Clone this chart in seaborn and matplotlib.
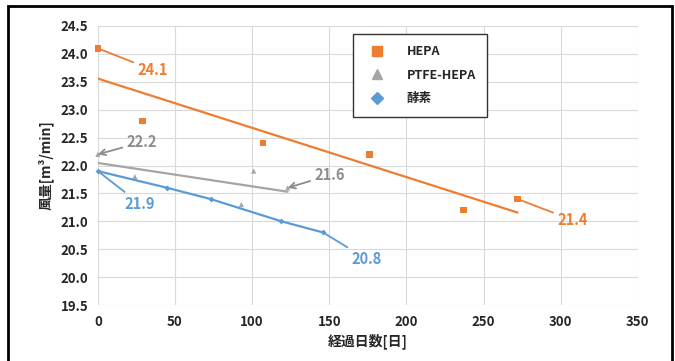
import numpy as np
import pandas as pd
import matplotlib
matplotlib.use('Agg')
import matplotlib.pyplot as plt
from matplotlib.lines import Line2D
from matplotlib.patches import Rectangle
import seaborn as sns

# %% Data
hepa_days = [0, 29, 107, 176, 237, 272]
hepa_flow = [24.1, 22.8, 22.4, 22.2, 21.2, 21.4]

ptfe_days = [0, 24, 93, 101, 123]
ptfe_flow = [22.2, 21.8, 21.3, 21.9, 21.6]

enzyme_days = [0, 45, 73, 119, 146]
enzyme_flow = [21.9, 21.6, 21.4, 21.0, 20.8]

series_names = ['HEPA', 'PTFE-HEPA', '酵素']
c_orange, c_grey, c_blue = '#ED7D31', '#A5A5A5', '#5B9BD5'

hepa = pd.DataFrame({'day': hepa_days, 'flow': hepa_flow})
ptfe = pd.DataFrame({'day': ptfe_days, 'flow': ptfe_flow})
enzyme = pd.DataFrame({'day': enzyme_days, 'flow': enzyme_flow})

# %% Style
sns.set_style('whitegrid', {'grid.color': '#d9d9d9'})
plt.rcParams['font.family'] = ['Noto Sans CJK JP', 'DejaVu Sans']

fig = plt.figure(figsize=(6.75, 3.61), dpi=100)
ax = fig.add_axes([0.145, 0.155, 0.80, 0.773])

# trendlines (linear fit, like the spreadsheet)
sns.regplot(data=hepa, x='day', y='flow', ax=ax, scatter=False, ci=None,
            color=c_orange, line_kws={'lw': 1.6})
sns.regplot(data=ptfe, x='day', y='flow', ax=ax, scatter=False, ci=None,
            color=c_grey, line_kws={'lw': 1.6})

# measured points
sns.scatterplot(data=hepa, x='day', y='flow', ax=ax, marker='s', s=22,
                color=c_orange, edgecolor='none', zorder=3, clip_on=False)
sns.scatterplot(data=ptfe, x='day', y='flow', ax=ax, marker='^', s=14,
                color=c_grey, edgecolor='none', zorder=3, clip_on=False)
sns.lineplot(data=enzyme, x='day', y='flow', ax=ax, color=c_blue, lw=1.6,
             marker='D', markersize=3, markeredgewidth=0, zorder=4,
             clip_on=False)

# value call-outs
def callout(x, y, tx, ty, color, arrow):
    ax.annotate(f'{y:.1f}', xy=(x, y), xytext=(tx, ty), color=color,
                fontsize=10.5, fontweight='bold', va='center', ha='left',
                arrowprops=dict(arrowstyle='->' if arrow else '-', color=color,
                                lw=1.3, shrinkA=1, shrinkB=0))

callout(hepa_days[0], hepa_flow[0], 25.9, 23.71, c_orange, False)
callout(hepa_days[-1], hepa_flow[-1], 298, 21.02, c_orange, False)
callout(ptfe_days[0], ptfe_flow[0], 18.8, 22.42, '#8c8c8c', True)
callout(ptfe_days[-1], ptfe_flow[-1], 140.6, 21.83, '#8c8c8c', True)
callout(enzyme_days[0], enzyme_flow[0], 17.5, 21.31, c_blue, False)
callout(enzyme_days[-1], enzyme_flow[-1], 164.6, 20.32, c_blue, False)

ax.set_xlim(0, 350)
ax.set_ylim(19.5, 24.5)
ax.set_xticks(np.arange(0, 351, 50))
ax.set_yticks(np.arange(19.5, 24.51, 0.5))
ax.yaxis.set_major_formatter(matplotlib.ticker.FormatStrFormatter('%.1f'))
ax.tick_params(length=0, labelsize=9.5, pad=7)
for lab in ax.get_xticklabels() + ax.get_yticklabels():
    lab.set_fontweight('bold')
for s in ax.spines.values():
    s.set_visible(False)

ax.set_xlabel('経過日数[日]', fontsize=10, fontweight='bold', labelpad=3)
ax.set_ylabel('風量[m³/min]', fontsize=10, fontweight='bold', labelpad=5)

handles = [
    Line2D([], [], ls='none', marker='s', color=c_orange, markersize=7),
    Line2D([], [], ls='none', marker='^', color=c_grey, markersize=7),
    Line2D([], [], ls='none', marker='D', color=c_blue, markersize=6),
]
leg = ax.legend(handles, series_names, loc='upper left',
                bbox_to_anchor=(0.472, 0.972), frameon=True, fancybox=False,
                edgecolor='#333333', framealpha=1, handletextpad=1.4,
                borderpad=0.9, labelspacing=0.85, borderaxespad=0,
                prop={'weight': 'bold', 'size': 9})
leg.get_frame().set_linewidth(1.0)

# outer frame
fig.patches.append(Rectangle((8 / 675, -0.02), 664 / 675, 1.02 - 6 / 361,
                             transform=fig.transFigure, fill=False,
                             edgecolor='black', lw=2))

plt.savefig('out.png', dpi=100)
